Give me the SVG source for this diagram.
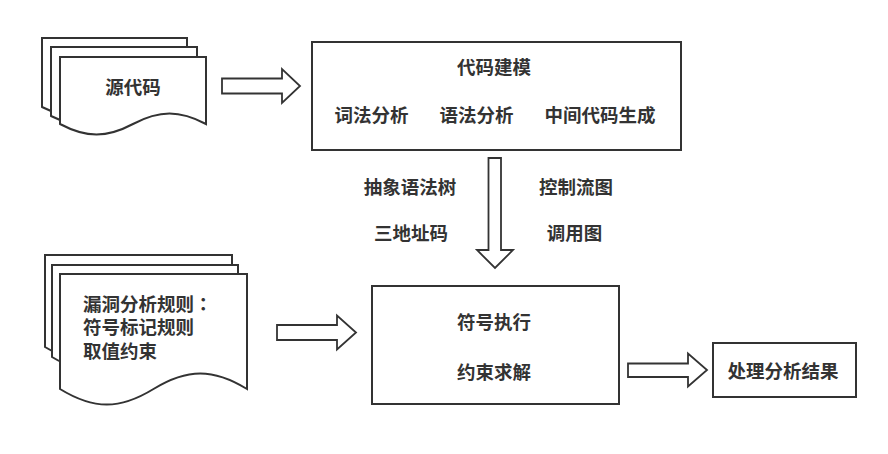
<svg xmlns="http://www.w3.org/2000/svg" width="888" height="454" viewBox="0 0 888 454">
<style>
.sh{fill:#fff;stroke:#333;stroke-width:2}
.ar{fill:#fff;stroke:#333;stroke-width:1.8;stroke-linejoin:miter}
.t{font-family:"Noto Sans CJK SC","Liberation Sans",sans-serif;font-size:18.5px;font-weight:bold;fill:#333}
.c{text-anchor:middle}
.tc{font-family:"Noto Sans CJK TC","Noto Sans CJK SC",sans-serif}
</style>
<rect width="888" height="454" fill="#fff"/>
<g id="source-code">
<path class="sh" d="M42,38 H187 V106 C160.9,92 140.6,92 114.5,106 C88.4,120 68.1,120 42,107 Z"/>
<path class="sh" d="M51,47 H197 V115 C170.7,101 150.3,101 124,115 C97.7,129 77.3,129 51,116 Z"/>
<path class="sh" d="M60,57 H206 V124 C179.7,110 159.3,110 133,124 C106.7,138 86.3,138 60,124 Z"/>
<text class="t c" x="133" y="94">源代码</text>
</g>
<g id="rules">
<path class="sh" d="M45,255 H232 V346 C198.3,325 172.2,325 138.5,346 C104.8,367 78.7,367 45,347 Z"/>
<path class="sh" d="M52,265 H238 V356 C204.5,335 178.5,335 145,356 C111.5,377 85.5,377 52,357 Z"/>
<path class="sh" d="M60,274 H247 V389 C213.3,368.3 187.2,368.3 153.5,389 C119.8,409.7 93.7,409.7 60,389 Z"/>
<text class="t" x="83" y="310.5">漏洞分析规则<tspan class="tc">：</tspan></text>
<text class="t" x="83" y="334">符号标记规则</text>
<text class="t" x="83" y="357.5">取值约束</text>
</g>
<g id="code-modeling">
<rect class="sh" x="312" y="42" width="369" height="108"/>
<text class="t c" x="494" y="73.7">代码建模</text>
<text class="t c" x="371.5" y="122">词法分析</text>
<text class="t c" x="476.5" y="122">语法分析</text>
<text class="t c" x="600" y="122">中间代码生成</text>
</g>
<g id="intermediate-labels">
<text class="t c" x="410" y="194">抽象语法树</text>
<text class="t c" x="576" y="194">控制流图</text>
<text class="t c" x="411" y="240">三地址码</text>
<text class="t c" x="574.5" y="240">调用图</text>
</g>
<g id="symbolic-execution">
<rect class="sh" x="372" y="286" width="247" height="118"/>
<text class="t c" x="494" y="328.7">符号执行</text>
<text class="t c" x="494" y="378.7">约束求解</text>
</g>
<g id="result">
<rect class="sh" x="713" y="343" width="143" height="54"/>
<text class="t c" x="783" y="377.7">处理分析结果</text>
</g>
<g id="connectors">
<polygon class="ar" points="222,78.5 282,78.5 282,69 300,86 282,103 282,93.5 222,93.5"/>
<polygon class="ar" points="488.5,158 501,158 501,250 513,250 495,268 477,250 488.5,250"/>
<polygon class="ar" points="277,325 337,325 337,315.5 356,332.5 337,349.5 337,340 277,340"/>
<polygon class="ar" points="628,363.5 688,363.5 688,353.5 707,370 688,386.5 688,377 628,377"/>
</g>
</svg>
